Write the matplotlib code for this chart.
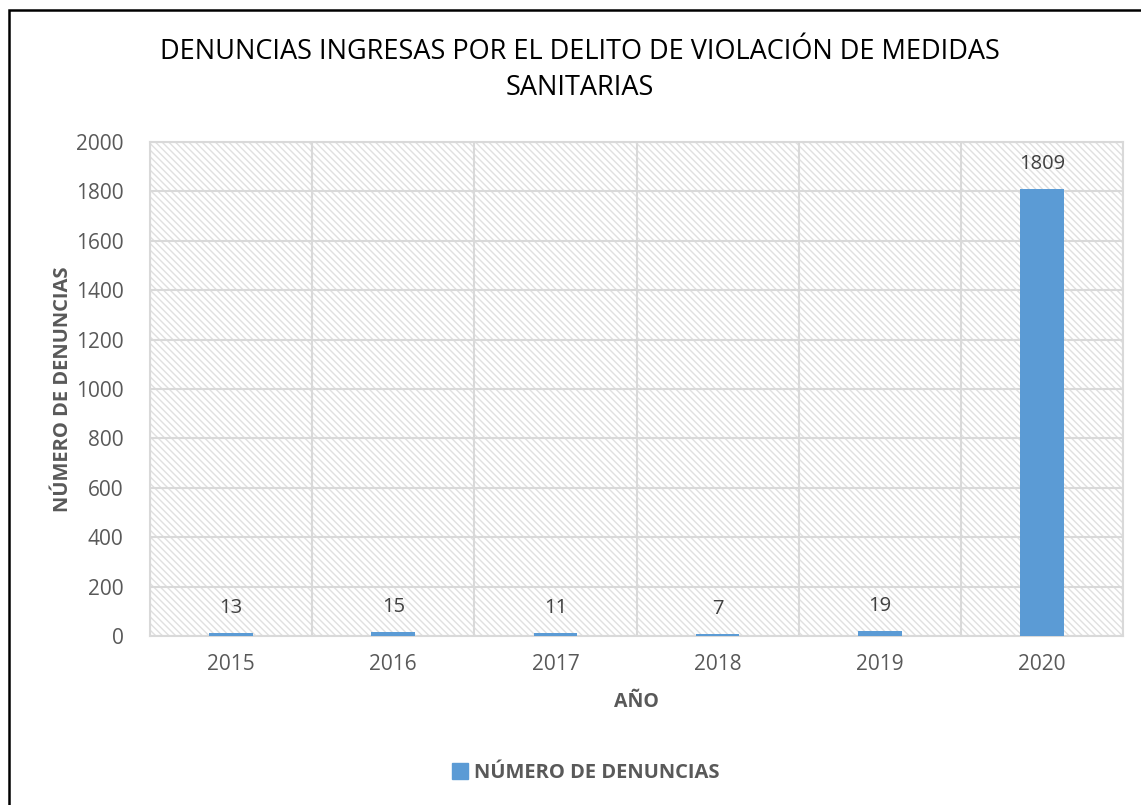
#!/usr/bin/env python3
import matplotlib
matplotlib.use('Agg')
import matplotlib.pyplot as plt
import matplotlib.patches as mpatches
import numpy as np

years = ['2015', '2016', '2017', '2018', '2019', '2020']
denuncias = [13, 15, 11, 7, 19, 1809]
y_ticks = [0, 200, 400, 600, 800, 1000, 1200, 1400, 1600, 1800, 2000]

plt.rcParams['font.family'] = ['Open Sans', 'DejaVu Sans']
plt.rcParams['hatch.linewidth'] = 1.0
plt.rcParams['hatch.color'] = '#e0e0e0'

W, H = 1141, 805
fig = plt.figure(figsize=(W / 100, H / 100), dpi=100)

# outer chart border (only top and left visible in the screenshot)
border = mpatches.Rectangle((9 / W, -0.05), 1.2, 1 - 10 / H + 0.05,
                            transform=fig.transFigure, fill=False,
                            edgecolor='black', linewidth=1.8)
fig.add_artist(border)

left, right = 150 / W, 1123 / W
bottom, top = 1 - 636 / H, 1 - 142 / H
ax = fig.add_axes([left, bottom, right - left, top - bottom])

x = np.arange(len(years))
ax.set_xlim(-0.5, len(years) - 0.5)
ax.set_ylim(0, 2000)

# hatched plot area
bg = mpatches.Rectangle((0, 0), 1, 1, transform=ax.transAxes, facecolor='white',
                        edgecolor='#e0e0e0', hatch='\\' * 5, linewidth=0, zorder=0)
ax.add_patch(bg)

ax.bar(x, denuncias, width=0.27, color='#5b9bd5', zorder=3)

for xi, v in zip(x, denuncias):
    ax.annotate(str(v), (xi, v), xytext=(0, 11), textcoords='offset points',
                ha='center', va='bottom', fontsize=14.5, color='#404040', zorder=4)

# gridlines
for yt in y_ticks:
    ax.axhline(yt, color='#d9d9d9', linewidth=1.5, zorder=1)
for b in np.arange(-0.5, len(years), 1):
    ax.axvline(b, color='#d9d9d9', linewidth=1.5, zorder=1)

for s in ax.spines.values():
    s.set_color('#d9d9d9')
    s.set_linewidth(1.5)

ax.set_xticks(x)
ax.set_xticklabels(years)
ax.set_yticks(y_ticks)
ax.tick_params(axis='both', length=0, labelsize=15, colors='#595959')
ax.tick_params(axis='x', pad=13)
ax.tick_params(axis='y', pad=19)

ax.set_xlabel('AÑO', fontsize=14, fontweight='bold', color='#595959', labelpad=12)
ax.set_ylabel('NÚMERO DE DENUNCIAS', fontsize=14.5, fontweight='bold', color='#595959', labelpad=2)

fig.text(580 / W, 1 - 70 / H,
         'DENUNCIAS INGRESAS POR EL DELITO DE VIOLACIÓN DE MEDIDAS\nSANITARIAS',
         ha='center', va='center', fontsize=19.5, color='black', linespacing=1.35)

handle = mpatches.Patch(color='#5b9bd5', label='NÚMERO DE DENUNCIAS')
fig.legend(handles=[handle], loc='center', bbox_to_anchor=(586 / W, 1 - 773 / H),
           frameon=False, handlelength=0.8, handleheight=0.8, handletextpad=0.3,
           prop={'weight': 'bold', 'size': 14.5}, labelcolor='#595959')

plt.savefig('out.png', dpi=100)
